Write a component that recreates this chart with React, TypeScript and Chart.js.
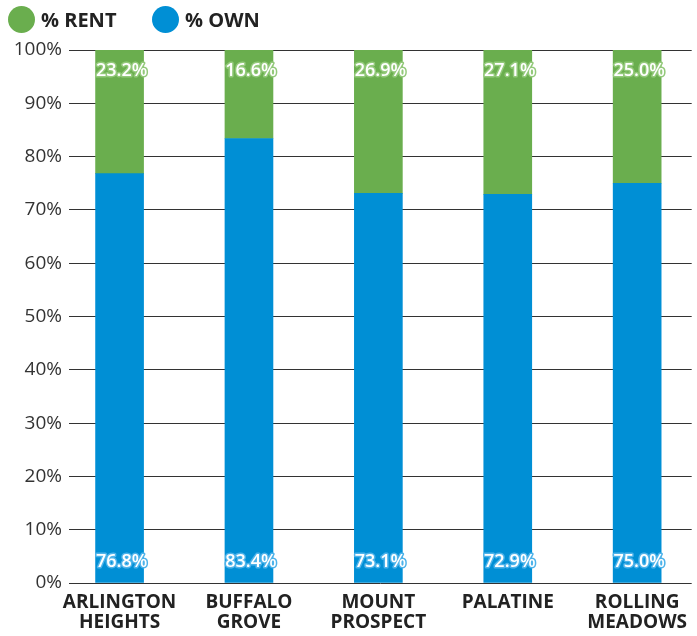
import React, { useEffect, useRef } from "react";
import { Chart, registerables } from "chart.js";

Chart.register(...registerables);

const categories: (string | string[])[] = [
  ["ARLINGTON", "HEIGHTS"],
  ["BUFFALO", "GROVE"],
  ["MOUNT", "PROSPECT"],
  "PALATINE",
  ["ROLLING", "MEADOWS"],
];
const ownValues = [76.8, 83.4, 73.1, 72.9, 75.0];
const rentValues = [23.2, 16.6, 26.9, 27.1, 25.0];
const seriesNames = ["% OWN", "% RENT"];
const seriesColors = ["#008fd5", "#6aae4e"];
const labelStrokeColors = ["#4db3ea", "#93c97a"];
const yTicks = [0, 10, 20, 30, 40, 50, 60, 70, 80, 90, 100];

const FONT = "'Open Sans', sans-serif";

const valueLabelPlugin = {
  id: "valueLabels",
  afterDraw(chart: any) {
    const ctx = chart.ctx;
    ctx.save();
    ctx.font = `600 18px ${FONT}`;
    ctx.textAlign = "center";
    ctx.textBaseline = "middle";
    ctx.lineJoin = "round";
    chart.data.datasets.forEach((ds: any, di: number) => {
      const meta = chart.getDatasetMeta(di);
      meta.data.forEach((bar: any, i: number) => {
        const p = bar.getProps(["x", "y", "base"], true);
        const txt = ds.data[i].y.toFixed(1) + "%";
        const ty = di === 0 ? p.base - 21 : p.y + 21;
        const tx = p.x + 2;
        ctx.strokeStyle = labelStrokeColors[di];
        ctx.lineWidth = 3;
        ctx.strokeText(txt, tx, ty);
        ctx.fillStyle = "#ffffff";
        ctx.fillText(txt, tx, ty);
      });
    });
    ctx.restore();
  },
};

export default function App() {
  const canvasRef = useRef<HTMLCanvasElement>(null);

  useEffect(() => {
    if (!canvasRef.current) return;
    const chart = new Chart(canvasRef.current, {
      type: "bar",
      data: {
        datasets: [
          {
            label: seriesNames[0],
            data: ownValues.map((v, i) => ({ x: i, y: v })),
            backgroundColor: seriesColors[0],
            borderWidth: 0,
            barThickness: 48,
          },
          {
            label: seriesNames[1],
            data: rentValues.map((v, i) => ({ x: i, y: v })),
            backgroundColor: seriesColors[1],
            borderWidth: 0,
            barThickness: 48,
          },
        ],
      },
      options: {
        animation: false,
        responsive: false,
        maintainAspectRatio: false,
        layout: { padding: { top: 50, left: 0, right: 0, bottom: 0 } },
        plugins: {
          legend: { display: false },
          tooltip: { enabled: false },
        },
        scales: {
          x: {
            type: "linear",
            stacked: true,
            min: -0.3908,
            max: 4.4215,
            offset: false,
            grid: { display: false, drawTicks: false },
            border: { display: false },
            afterBuildTicks: (scale: any) => {
              scale.ticks = categories.map((_, i) => ({ value: i }));
            },
            afterFit: (scale: any) => {
              scale.height = 53;
            },
            ticks: {
              padding: 10,
              color: "#222222",
              font: { family: FONT, size: 19, weight: "bold", lineHeight: 1.05 },
              maxRotation: 0,
              autoSkip: false,
              callback: (value: any) => {
                const idx = Math.round(Number(value));
                return categories[idx] ?? "";
              },
            },
          },
          y: {
            stacked: true,
            min: 0,
            max: 100,
            z: 1,
            afterBuildTicks: (scale: any) => {
              scale.ticks = yTicks.map((v) => ({ value: v }));
            },
            afterFit: (scale: any) => {
              scale.width = 69;
            },
            grid: { color: "#333333", lineWidth: 1, drawTicks: false },
            border: { display: false },
            ticks: {
              padding: 7,
              color: "#333333",
              font: { family: FONT, size: 19, weight: "normal" },
              callback: (value: any) => value + "%",
            },
          },
        },
      },
      plugins: [valueLabelPlugin],
    } as any);
    return () => chart.destroy();
  }, []);

  const legendItems = [
    { name: seriesNames[1], color: seriesColors[1], left: 8 },
    { name: seriesNames[0], color: seriesColors[0], left: 152 },
  ];

  return (
    <div style={{ position: "absolute", left: 0, top: 0, width: 697, height: 636, background: "#ffffff" }}>
      <canvas ref={canvasRef} width={697} height={636} style={{ position: "absolute", left: 0, top: 0 }} />
      {legendItems.map((it) => (
        <div
          key={it.name}
          style={{
            position: "absolute",
            left: it.left,
            top: 6,
            height: 27,
            display: "flex",
            alignItems: "center",
            fontFamily: FONT,
            fontWeight: 700,
            fontSize: 20,
            color: "#222222",
            whiteSpace: "nowrap",
          }}
        >
          <span
            style={{
              display: "inline-block",
              width: 27,
              height: 27,
              borderRadius: "50%",
              background: it.color,
              marginRight: 6,
            }}
          />
          {it.name}
        </div>
      ))}
    </div>
  );
}
